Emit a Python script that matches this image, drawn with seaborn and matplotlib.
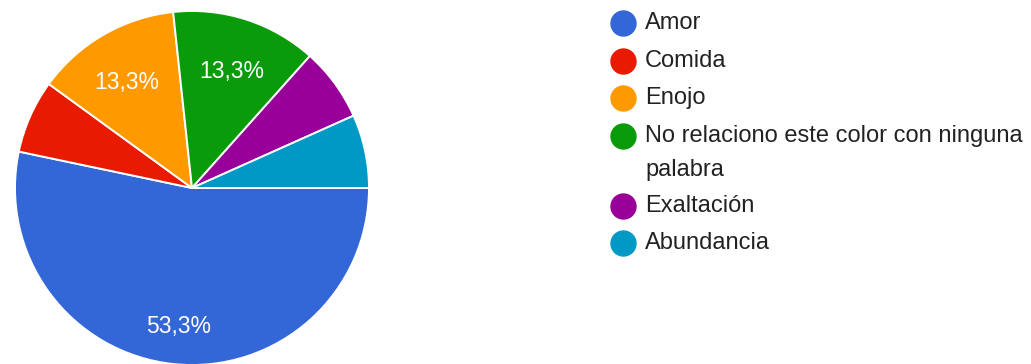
import matplotlib
matplotlib.use("Agg")
import matplotlib.pyplot as plt
from matplotlib.lines import Line2D
import seaborn as sns

# Survey answers (share of responses, %)
categories = ["Amor", "Comida", "Enojo",
              "No relaciono este color con ninguna palabra",
              "Exaltación", "Abundancia"]
legend_lines = [["Amor"], ["Comida"], ["Enojo"],
                ["No relaciono este color con ninguna", "palabra"],
                ["Exaltación"], ["Abundancia"]]
shares = [53.3, 6.7, 13.3, 13.3, 6.7, 6.7]
hex_colors = ["#3366d6", "#e81a00", "#ff9900", "#0a9b0a", "#990099", "#0099c6"]

sns.set_theme(style="white")
plt.rcParams["font.family"] = ["Liberation Sans", "DejaVu Sans"]
palette = sns.color_palette(hex_colors)

W, H = 1031, 364
fig = plt.figure(figsize=(W / 100, H / 100), dpi=100)
fig.patch.set_facecolor("white")

# Pie placement (pixels): centre and radius
cx, cy, r = 192, 188, 177
ax = fig.add_axes([(cx - r) / W, (H - cy - r) / H, 2 * r / W, 2 * r / H])


def pct_label(p):
    return f"{p:.1f}".replace(".", ",") + "%" if p >= 10 else ""


wedges, _, autotexts = ax.pie(
    shares, colors=palette, startangle=0, counterclock=False,
    autopct=pct_label, pctdistance=0.74,
    wedgeprops=dict(edgecolor="white", linewidth=1.4),
    textprops=dict(color="white", fontsize=16.5),
)
# nudge the percentage labels slightly downwards
for t in autotexts:
    x, y = t.get_position()
    t.set_position((x, y - 8 / r))

ax.set_xlim(-1, 1)
ax.set_ylim(-1, 1)
ax.set_aspect("equal")
ax.axis("off")

# Legend drawn as markers + text at the right
mx, tx = 623, 645
row_y = [23, 61, 98, 136, 206, 243]
wrap_gap = 34
for lines, y, col in zip(legend_lines, row_y, palette):
    fig.add_artist(Line2D([mx / W], [1 - y / H], marker="o", markersize=18,
                          color=col, linestyle="none",
                          transform=fig.transFigure))
    for k, line in enumerate(lines):
        fig.text(tx / W, 1 - (y + k * wrap_gap) / H, line, fontsize=17,
                 color="#222222", va="center", ha="left")

fig.savefig("out.png", dpi=100, facecolor="white")
